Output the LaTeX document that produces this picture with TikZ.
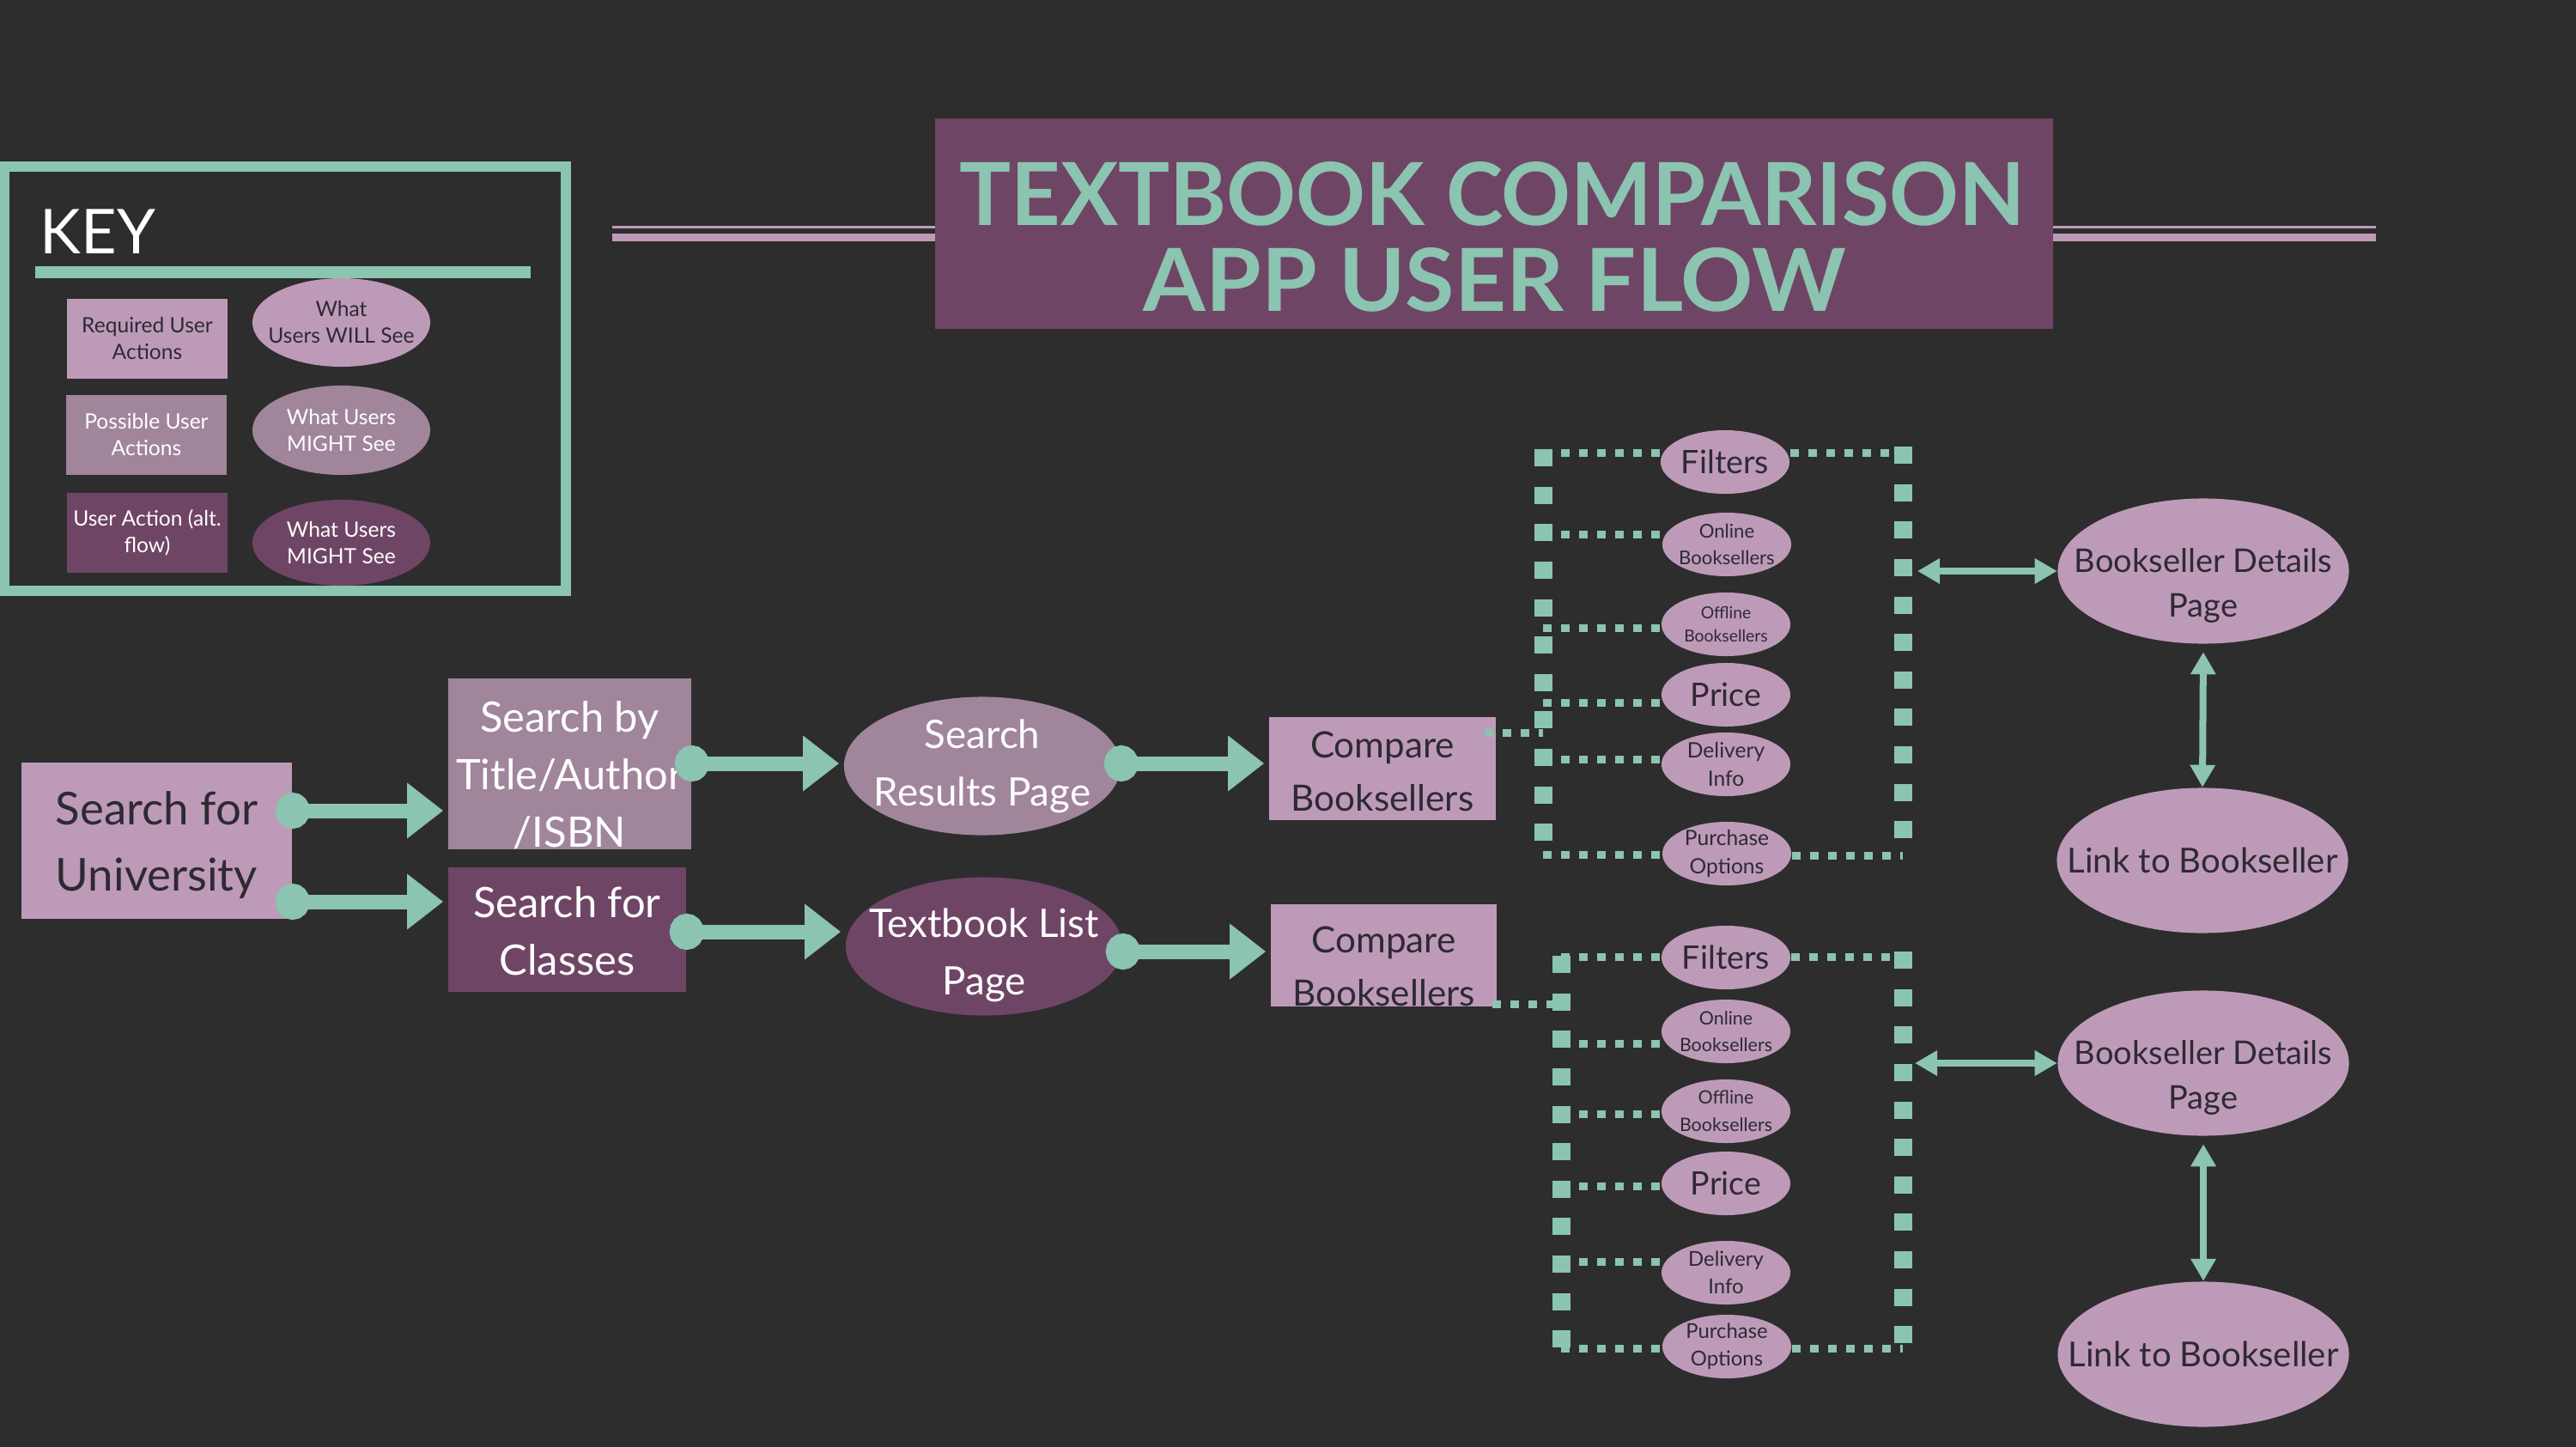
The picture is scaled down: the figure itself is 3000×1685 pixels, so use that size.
\documentclass[tikz,border=0pt]{standalone}
\usepackage{graphicx}
\usepackage{fontspec}
\setmainfont{Lato}
\usetikzlibrary{shapes.geometric,arrows.meta}
\definecolor{bgc}{RGB}{45,45,45}
\definecolor{lmv}{RGB}{190,154,185}
\definecolor{mmv}{RGB}{160,133,155}
\definecolor{plum}{RGB}{111,69,101}
\definecolor{tealc}{RGB}{139,196,176}
\definecolor{dtext}{RGB}{46,42,51}
\newcommand\fsz[2]{\fontsize{#1}{#2}\selectfont}
\pgfdeclarelayer{back}
\pgfdeclarelayer{lines}
\pgfsetlayers{back,lines,main}
\tikzset{
  box/.style={rectangle, inner sep=0pt, draw=none, align=center},
  ell/.style={ellipse, inner sep=0pt, draw=none},
  txt/.style={align=center, inner sep=0pt},
  smell/.style={ell, fill=lmv, minimum width=1.5cm, minimum height=0.74cm},
  bigell/.style={ell, fill=lmv, minimum width=3.39cm, minimum height=1.69cm},
  flow/.style={draw=tealc, line width=0.17cm,
    {Ellipse[length=0.4cm,width=0.42cm]}-{Triangle[length=0.42cm,width=0.62cm]},
    shorten <=-0.2cm, shorten >=0.05cm},
  bi/.style={draw=tealc, line width=0.08cm,
    {Triangle[length=0.26cm,width=0.28cm]}-{Triangle[length=0.26cm,width=0.28cm]}},
  vdots/.style={draw=tealc, line width=0.21cm, dash pattern=on 0.2cm off 0.236cm},
  hdots/.style={draw=tealc, line width=0.09cm, dash pattern=on 0.1cm off 0.11cm}
}
\begin{document}
\begin{tikzpicture}[x=0.01cm,y=-0.01cm]
\begin{pgfonlayer}{back}
\fill[bgc] (0,0) rectangle (3000,1685);
\end{pgfonlayer}
\useasboundingbox (0,0) rectangle (3000,1685);

% ---------- title ----------
\draw[lmv, line width=0.03cm] (713,264.5) -- (2767,264.5);
\draw[lmv, line width=0.09cm] (713,276.5) -- (2767,276.5);
\node[box, fill=plum, minimum width=13.02cm, minimum height=2.45cm] (title) at (1740,260.5) {};
\node[anchor=base, inner sep=0pt, text=tealc] (t1) at (1738,262) {\resizebox{12.4cm}{0.74cm}{\bfseries TEXTBOOK COMPARISON}};
\node[anchor=base, inner sep=0pt, text=tealc] (t2) at (1741,362) {\resizebox{8.18cm}{0.74cm}{\bfseries APP USER FLOW}};

% ---------- key ----------
\node[draw=tealc, line width=0.12cm, minimum width=6.54cm, minimum height=4.94cm, inner sep=0pt] (keybox) at (332,441) {};
\node[anchor=base west, inner sep=0pt, text=white, font={\fsz{20.5}{24}}] (keyt) at (46,295) {KEY};
\draw[tealc, line width=0.14cm] (41,317) -- (618,317);
\node[box, fill=lmv, minimum width=1.87cm, minimum height=0.93cm, text=dtext, font={\fsz{7}{8.8}}] (k1) at (171.5,394.5) {Required User\\Actions};
\node[box, fill=mmv, minimum width=1.87cm, minimum height=0.93cm, text=white, font={\fsz{7}{8.8}}] (k2) at (170.5,506.5) {Possible User\\Actions};
\node[box, fill=plum, minimum width=1.87cm, minimum height=0.93cm, text=white, font={\fsz{7}{8.8}}] (k3) at (171.5,620.5) {User Action (alt.\\flow)};
\node[ell, fill=lmv, minimum width=2.07cm, minimum height=1.03cm] (e1) at (397.5,375.5) {};
\node[txt, text=dtext, font={\fsz{7}{8.8}}] at (e1) {What\\Users WILL See};
\node[ell, fill=mmv, minimum width=2.07cm, minimum height=1.04cm] (e2) at (397.5,501) {};
\node[txt, text=white, font={\fsz{7}{8.8}}] at (e2) {What Users\\MIGHT See};
\node[ell, fill=plum, minimum width=2.07cm, minimum height=1.0cm] (e3) at (397.5,632) {};
\node[txt, text=white, font={\fsz{7}{8.8}}] at (e3) {What Users\\MIGHT See};

% ---------- main flow ----------
\node[box, fill=lmv, minimum width=3.15cm, minimum height=1.82cm] (u) at (182.5,979) {};
\node[txt, text=dtext, font={\fsz{15}{22}}] at ([yshift=-0.05cm]u.center) {Search for\\University};
\node[box, fill=mmv, minimum width=2.83cm, minimum height=1.99cm] (sb) at (663.5,889.5) {};
\node[txt, text=white, font={\fsz{13.9}{19}}] at ([yshift=-0.13cm]sb.center) {Search by\\Title/Author\\/ISBN};
\node[box, fill=plum, minimum width=2.77cm, minimum height=1.45cm] (sc) at (660.5,1082.5) {};
\node[txt, text=white, font={\fsz{13.9}{19}}] at ([yshift=-0.02cm]sc.center) {Search for\\Classes};
\node[ell, fill=mmv, minimum width=3.22cm, minimum height=1.61cm] (sr) at (1144,892) {};
\node[txt, text=white, font={\fsz{13}{19}}] at (sr) {Search\\Results Page};
\node[ell, fill=plum, minimum width=3.22cm, minimum height=1.61cm] (tl) at (1146,1102) {};
\node[txt, text=white, font={\fsz{13}{19}}] at ([yshift=-0.1cm]tl.center) {Textbook List\\Page};
\node[box, fill=lmv, minimum width=2.64cm, minimum height=1.2cm] (cb1) at (1610,895) {};
\node[txt, text=dtext, font={\fsz{12}{17.6}}] at ([yshift=-0.03cm]cb1.center) {Compare\\Booksellers};
\node[box, fill=lmv, minimum width=2.63cm, minimum height=1.19cm] (cb2) at (1611.5,1112.5) {};
\node[txt, text=dtext, font={\fsz{12}{17.6}}] at ([yshift=-0.13cm]cb2.center) {Compare\\Booksellers};

% ---------- option ellipses, group 1 ----------
\node[smell] (fi1) at (2009,538) {};
\node[txt, text=dtext, font={\fsz{10.7}{13}}] at (fi1) {Filters};
\node[smell] (on1) at (2011,634) {};
\node[txt, text=dtext, font={\fsz{6.3}{9}}] at (on1) {Online\\Booksellers};
\node[smell] (of1) at (2010,727) {};
\node[txt, text=dtext, font={\fsz{5.5}{7.7}}] at (of1) {Offline\\Booksellers};
\node[smell] (pr1) at (2010,809) {};
\node[txt, text=dtext, font={\fsz{10.7}{13}}] at (pr1) {Price};
\node[smell] (de1) at (2010,890) {};
\node[txt, text=dtext, font={\fsz{7}{9.4}}] at (de1) {Delivery\\Info};
\node[smell] (pu1) at (2011,994) {};
\node[txt, text=dtext, font={\fsz{7}{9.4}}] at (pu1) {Purchase\\Options};

% ---------- option ellipses, group 2 ----------
\node[smell] (fi2) at (2010,1115) {};
\node[txt, text=dtext, font={\fsz{10.7}{13}}] at (fi2) {Filters};
\node[smell] (on2) at (2010,1201) {};
\node[txt, text=dtext, font={\fsz{6.1}{9}}] at (on2) {Online\\Booksellers};
\node[smell] (of2) at (2010,1294) {};
\node[txt, text=dtext, font={\fsz{6.1}{9}}] at (of2) {Offline\\Booksellers};
\node[smell] (pr2) at (2010,1378) {};
\node[txt, text=dtext, font={\fsz{10.7}{13}}] at (pr2) {Price};
\node[smell] (de2) at (2010,1482) {};
\node[txt, text=dtext, font={\fsz{6.8}{9}}] at (de2) {Delivery\\Info};
\node[smell] (pu2) at (2011,1568) {};
\node[txt, text=dtext, font={\fsz{6.8}{9}}] at (pu2) {Purchase\\Options};

% ---------- bookseller ellipses ----------
\node[bigell] (bd1) at (2566,665) {};
\node[txt, text=dtext, font={\fsz{10.8}{15}}] at ([yshift=-0.17cm]bd1.center) {Bookseller Details\\Page};
\node[bigell] (lb1) at (2565,1002) {};
\node[txt, text=dtext, font={\fsz{11.4}{14}}] at (lb1) {Link to Bookseller};
\node[bigell] (bd2) at (2566,1238) {};
\node[txt, text=dtext, font={\fsz{10.8}{15}}] at ([yshift=-0.17cm]bd2.center) {Bookseller Details\\Page};
\node[bigell] (lb2) at (2566,1577) {};
\node[txt, text=dtext, font={\fsz{11.4}{14}}] at (lb2) {Link to Bookseller};

% ---------- dotted frames ----------
\coordinate (L1t) at (1797,523); \coordinate (L1b) at (1797,998);
\coordinate (R1t) at (2216,520); \coordinate (R1b) at (2216,980);
\coordinate (L2t) at (1818,1113); \coordinate (L2b) at (1818,1575);
\coordinate (R2t) at (2216,1108); \coordinate (R2b) at (2216,1565);
\begin{pgfonlayer}{lines}
\draw[vdots] (L1t) -- (L1b);
\draw[vdots] (R1t) -- (R1b);
\draw[hdots] (L1t |- 0,527) -- (fi1.west |- 0,527);
\draw[hdots] (fi1.east |- 0,527) -- (R1t |- 0,527);
\draw[hdots] (L1t |- 0,622) -- (on1.west |- 0,622);
\draw[hdots] (L1t |- 0,731) -- (of1.west |- 0,731);
\draw[hdots] (L1t |- 0,818) -- (pr1.west |- 0,818);
\draw[hdots] (L1t |- 0,884) -- (de1.west |- 0,884);
\draw[hdots] (L1t |- 0,995) -- (pu1.west |- 0,995);
\draw[hdots] (pu1.east |- 0,996) -- (R1t |- 0,996);
\draw[vdots] (L2t) -- (L2b);
\draw[vdots] (R2t) -- (R2b);
\draw[hdots] (L2t |- 0,1114) -- (fi2.west |- 0,1114);
\draw[hdots] (fi2.east |- 0,1114) -- (R2t |- 0,1114);
\draw[hdots] (L2t |- 0,1215) -- (on2.west |- 0,1215);
\draw[hdots] (L2t |- 0,1297) -- (of2.west |- 0,1297);
\draw[hdots] (L2t |- 0,1381) -- (pr2.west |- 0,1381);
\draw[hdots] (L2t |- 0,1469) -- (de2.west |- 0,1469);
\draw[hdots] (L2t |- 0,1570) -- (pu2.west |- 0,1570);
\draw[hdots] (pu2.east |- 0,1570) -- (R2t |- 0,1570);
\end{pgfonlayer}
\coordinate (c1s) at (1729,853);
\draw[hdots] (c1s) -- (L1t |- c1s);
\coordinate (c2s) at (1738,1169);
\draw[hdots] (c2s) -- (L2t |- c2s);

% ---------- flow arrows ----------
\draw[flow] (u.east |- 0,944) -- (sb.west |- 0,944);
\draw[flow] (u.east |- 0,1050) -- (sc.west |- 0,1050);
\draw[flow] (sb.east |- 0,889) -- (sr.west |- 0,889);
\draw[flow] (sr.east |- 0,889) -- (cb1.west |- 0,889);
\draw[flow] (sc.east |- 0,1085) -- (tl.west |- 0,1085);
\draw[flow] (tl.east |- 0,1108) -- (cb2.west |- 0,1108);

% ---------- bidirectional arrows ----------
\coordinate (a1) at (2233,665);
\draw[bi] (a1) -- (bd1.west);
\draw[bi, shorten <=0.09cm] (bd1.south) -- (lb1.north);
\coordinate (a2) at (2230,1238);
\draw[bi] (a2) -- (bd2.west);
\draw[bi, shorten <=0.09cm] (bd2.south) -- (lb2.north);
\end{tikzpicture}
\end{document}
